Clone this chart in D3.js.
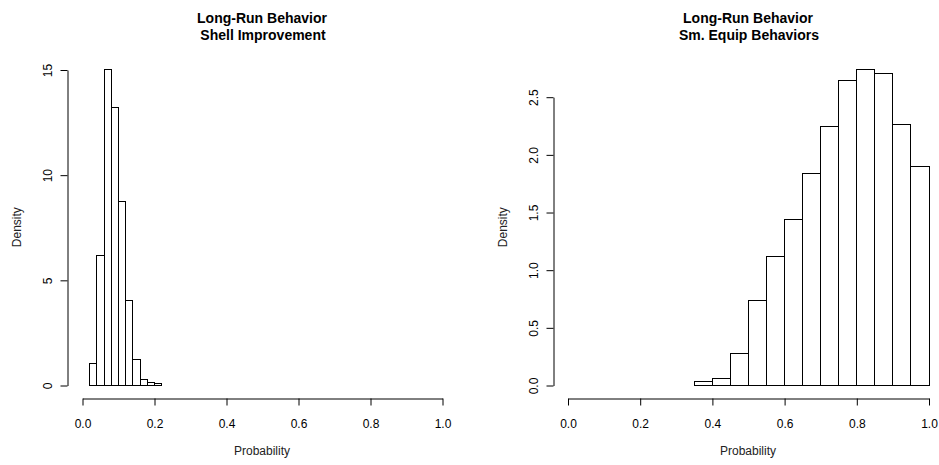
<!DOCTYPE html>
<html>
<head>
<meta charset="utf-8">
<script src="https://cdn.jsdelivr.net/npm/d3@7"></script>
<style>
  body { margin: 0; background: #fff; }
  svg { display: block; font-family: "Liberation Sans", Arial, sans-serif; }
</style>
</head>
<body>
<div id="content"></div>
<script>
/* histogram data */

// left panel: Shell Improvement, bins of 0.02
const shellBreaks = [0.02, 0.04, 0.06, 0.08, 0.10, 0.12, 0.14, 0.16, 0.18, 0.20, 0.22];
const shellDensity = [1.03, 6.19, 15.03, 13.22, 8.76, 4.05, 1.24, 0.29, 0.13, 0.08];
const shellYTicks = [0, 5, 10, 15];

// right panel: Sm. Equip Behaviors, bins of 0.05
const equipBreaks = [0.35, 0.40, 0.45, 0.50, 0.55, 0.60, 0.65, 0.70, 0.75, 0.80, 0.85, 0.90, 0.95, 1.00];
const equipDensity = [0.032, 0.058, 0.275, 0.734, 1.116, 1.437, 1.836, 2.243, 2.645, 2.738, 2.703, 2.261, 1.897];
const equipYTicks = [0, 0.5, 1.0, 1.5, 2.0, 2.5];

const xTicks = [0, 0.2, 0.4, 0.6, 0.8, 1.0];
const titleLine1 = "Long-Run Behavior";

const WIDTH = 939;
const HEIGHT = 465;

const svg = d3.select("#content").append("svg")
    .attr("width", WIDTH)
    .attr("height", HEIGHT);

svg.append("rect").attr("width", WIDTH).attr("height", HEIGHT).attr("fill", "#fff");

//drawHist() draws one base-R style histogram panel
function drawHist(p) {
    const x = d3.scaleLinear().domain([0, 1]).range([p.left, p.right]);
    const y = d3.scaleLinear().domain([0, p.yTicks[p.yTicks.length - 1]]).range([385, p.yTop]);
    const g = svg.append("g");

    const bins = p.density.map((d, i) => ({x0: p.breaks[i], x1: p.breaks[i + 1], v: d}));

    g.selectAll("rect.bar")
        .data(bins)
        .enter()
        .append("rect")
        .attr("class", "bar")
        .attr("x", d => Math.round(x(d.x0)) + 0.5)
        .attr("width", d => Math.round(x(d.x1)) - Math.round(x(d.x0)))
        .attr("y", d => Math.round(y(d.v)) + 0.5)
        .attr("height", d => Math.round(y(0)) - Math.round(y(d.v)))
        .attr("fill", "#fff")
        .attr("stroke", "#000")
        .attr("stroke-width", 1);

    //x axis sits below the plot like R does
    const xAxis = g.append("g")
        .attr("transform", "translate(0.5,398.5)")
        .call(d3.axisBottom(x).tickValues(xTicks).tickFormat(d3.format(".1f"))
            .tickSize(7).tickSizeOuter(0).tickPadding(14));
    xAxis.selectAll("path, line").attr("stroke", "#000");
    xAxis.selectAll("text").attr("font-size", 12).attr("fill", "#000")
        .attr("font-family", "Liberation Sans, Arial, sans-serif");

    //y axis, labels rotated
    const yAxis = g.append("g")
        .attr("transform", `translate(${Math.round(p.left - 15) + 0.5},0.5)`)
        .call(d3.axisLeft(y).tickValues(p.yTicks).tickFormat(p.fmt)
            .tickSize(7).tickSizeOuter(0));
    yAxis.selectAll("path, line").attr("stroke", "#000");
    yAxis.selectAll("text")
        .attr("x", null).attr("dy", null)
        .attr("text-anchor", "middle")
        .attr("transform", "translate(-16,0) rotate(-90)")
        .attr("font-size", 12).attr("fill", "#000")
        .attr("font-family", "Liberation Sans, Arial, sans-serif");

    const cx = (x(-0.04) + x(1.04)) / 2;

    g.append("text")
        .attr("x", cx).attr("y", 22.5)
        .attr("text-anchor", "middle")
        .attr("font-weight", "bold").attr("font-size", 14)
        .text(titleLine1);
    g.append("text")
        .attr("x", cx + 1).attr("y", 40)
        .attr("text-anchor", "middle")
        .attr("font-weight", "bold").attr("font-size", 14)
        .text(p.title2);

    g.append("text")
        .attr("x", cx).attr("y", 455)
        .attr("text-anchor", "middle")
        .attr("font-size", 12).attr("fill", "#222")
        .text("Probability");

    g.append("text")
        .attr("transform", `translate(${p.left - 61},${(56.8 + 397.6) / 2}) rotate(-90)`)
        .attr("text-anchor", "middle")
        .attr("font-size", 12).attr("fill", "#222")
        .text("Density");
}

drawHist({left: 82, right: 442, yTop: 69.5, breaks: shellBreaks, density: shellDensity,
          yTicks: shellYTicks, fmt: d3.format("d"), title2: "Shell Improvement"});
drawHist({left: 567.5, right: 928.5, yTop: 96.7, breaks: equipBreaks, density: equipDensity,
          yTicks: equipYTicks, fmt: d3.format(".1f"), title2: "Sm. Equip Behaviors"});
</script>
</body>
</html>
